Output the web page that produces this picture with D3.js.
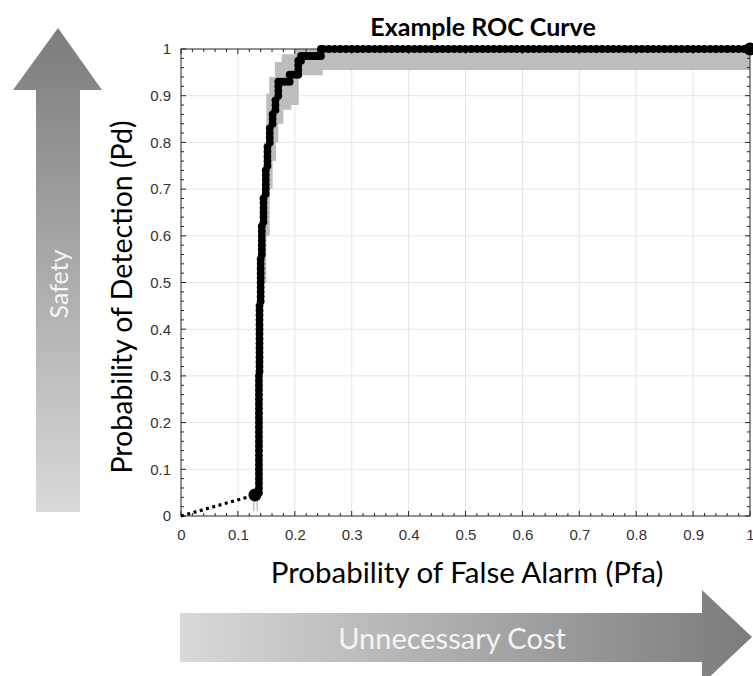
<!DOCTYPE html>
<html lang="en">
<head>
  <meta charset="UTF-8">
  <title>Example ROC Curve</title>
  <script src="https://d3js.org/d3.v7.min.js"></script>
  <style>
    body { margin: 0; background: #fff; }
    .tick text { font-family: "Liberation Sans", Arial, sans-serif; }
  </style>
</head>
<body>
  <div id="chart"></div>
  <script>
    // ROC operating points [Pfa, Pd]
    const rocStart = [[0, 0], [0.130, 0.045]];
    const rocPoints = [
      [0.130, 0.045],
      [0.137, 0.05], [0.137, 0.06], [0.137, 0.07], [0.137, 0.08], [0.137, 0.09], [0.137, 0.10],
      [0.137, 0.11], [0.137, 0.12], [0.137, 0.13], [0.137, 0.14], [0.137, 0.15], [0.137, 0.16],
      [0.137, 0.17], [0.137, 0.18], [0.137, 0.19], [0.137, 0.20], [0.137, 0.21], [0.137, 0.22],
      [0.137, 0.23], [0.137, 0.24], [0.137, 0.25], [0.137, 0.26], [0.137, 0.27], [0.137, 0.28],
      [0.137, 0.29], [0.137, 0.30],
      [0.138, 0.31], [0.138, 0.32], [0.138, 0.33], [0.138, 0.34], [0.138, 0.35], [0.138, 0.36],
      [0.138, 0.37], [0.138, 0.38], [0.138, 0.39], [0.138, 0.40], [0.138, 0.41], [0.138, 0.42],
      [0.138, 0.43], [0.138, 0.44], [0.138, 0.45],
      [0.140, 0.46], [0.140, 0.47], [0.140, 0.48], [0.140, 0.49], [0.140, 0.50], [0.140, 0.51],
      [0.140, 0.52], [0.140, 0.53], [0.140, 0.54], [0.140, 0.55],
      [0.142, 0.56], [0.142, 0.57], [0.142, 0.58], [0.142, 0.59], [0.142, 0.60], [0.142, 0.61],
      [0.142, 0.62],
      [0.145, 0.63], [0.145, 0.64], [0.145, 0.65], [0.145, 0.66], [0.145, 0.67], [0.145, 0.68],
      [0.149, 0.69], [0.149, 0.70], [0.149, 0.71], [0.149, 0.72], [0.149, 0.73], [0.149, 0.74],
      [0.152, 0.75], [0.152, 0.76], [0.152, 0.77], [0.152, 0.78], [0.152, 0.79],
      [0.156, 0.80], [0.156, 0.81], [0.156, 0.82], [0.156, 0.83],
      [0.161, 0.84], [0.161, 0.85], [0.161, 0.86],
      [0.166, 0.87], [0.166, 0.88], [0.166, 0.89],
      [0.171, 0.90], [0.171, 0.91], [0.171, 0.92],
      [0.171, 0.93], [0.176, 0.93], [0.181, 0.93], [0.186, 0.93], [0.191, 0.93],
      [0.191, 0.945], [0.196, 0.945], [0.201, 0.945], [0.206, 0.945],
      [0.206, 0.955], [0.206, 0.965], [0.206, 0.975], [0.211, 0.975],
      [0.211, 0.985], [0.216, 0.985], [0.221, 0.985], [0.226, 0.985], [0.231, 0.985],
      [0.236, 0.985], [0.241, 0.985], [0.246, 0.985],
      [0.246, 1], [0.25, 1], [0.26, 1], [0.27, 1], [0.28, 1], [0.29, 1], [0.30, 1], [0.31, 1],
      [0.32, 1], [0.33, 1], [0.34, 1], [0.35, 1], [0.36, 1], [0.37, 1], [0.38, 1], [0.39, 1],
      [0.40, 1], [0.41, 1], [0.42, 1], [0.43, 1], [0.44, 1], [0.45, 1], [0.46, 1], [0.47, 1],
      [0.48, 1], [0.49, 1], [0.50, 1], [0.51, 1], [0.52, 1], [0.53, 1], [0.54, 1], [0.55, 1],
      [0.56, 1], [0.57, 1], [0.58, 1], [0.59, 1], [0.60, 1], [0.61, 1], [0.62, 1], [0.63, 1],
      [0.64, 1], [0.65, 1], [0.66, 1], [0.67, 1], [0.68, 1], [0.69, 1], [0.70, 1], [0.71, 1],
      [0.72, 1], [0.73, 1], [0.74, 1], [0.75, 1], [0.76, 1], [0.77, 1], [0.78, 1], [0.79, 1],
      [0.80, 1], [0.81, 1], [0.82, 1], [0.83, 1], [0.84, 1], [0.85, 1], [0.86, 1], [0.87, 1],
      [0.88, 1], [0.89, 1], [0.90, 1], [0.91, 1], [0.92, 1], [0.93, 1], [0.94, 1], [0.95, 1],
      [0.96, 1], [0.97, 1], [0.98, 1], [0.99, 1], [1.00, 1]
    ];
    const bigMarkers = [[0.130, 0.045], [1, 1]];

    // confidence band: [Pd from, Pfa edge] steps for left and right edges
    const bandLeft = [[0.50, 0.140], [0.60, 0.142], [0.70, 0.146], [0.80, 0.150], [0.904, 0.155],
                      [0.94, 0.165], [0.972, 0.177], [0.989, 0.200]];
    const bandRight = [[0.50, 0.150], [0.60, 0.156], [0.70, 0.161], [0.76, 0.167], [0.80, 0.171],
                       [0.84, 0.180], [0.87, 0.194], [0.88, 0.207], [0.944, 0.249], [0.955, 1.0]];
    // small error bars under the first marker: [Pfa, Pd low, Pd high]
    const lowBars = [[0.128, 0.01, 0.045], [0.134, 0.01, 0.045]];

    const xTicks = [0, 0.1, 0.2, 0.3, 0.4, 0.5, 0.6, 0.7, 0.8, 0.9, 1];
    const yTicks = [0, 0.1, 0.2, 0.3, 0.4, 0.5, 0.6, 0.7, 0.8, 0.9, 1];
    const minorTicks = d3.range(0, 1.0001, 0.02);

    const W = 753, H = 676;
    const plot = {left: 181, right: 750, top: 49, bottom: 516};

    const svg = d3.select("#chart").append("svg")
      .attr("width", W).attr("height", H);

    const x = d3.scaleLinear().domain([0, 1]).range([plot.left, plot.right]);
    const y = d3.scaleLinear().domain([0, 1]).range([plot.bottom, plot.top]);

    const defs = svg.append("defs");
    const gV = defs.append("linearGradient").attr("id", "gradV")
      .attr("x1", 0).attr("y1", 0).attr("x2", 0).attr("y2", 1);
    gV.append("stop").attr("offset", "0%").attr("stop-color", "#7c7c7c");
    gV.append("stop").attr("offset", "100%").attr("stop-color", "#d9d9d9");
    const gH = defs.append("linearGradient").attr("id", "gradH")
      .attr("x1", 0).attr("y1", 0).attr("x2", 1).attr("y2", 0);
    gH.append("stop").attr("offset", "0%").attr("stop-color", "#d9d9d9");
    gH.append("stop").attr("offset", "100%").attr("stop-color", "#7c7c7c");

    // vertical "Safety" arrow
    svg.append("path")
      .attr("d", "M36,512 L36,90 L13,90 L58,28 L102,90 L80,90 L80,512 Z")
      .attr("fill", "url(#gradV)");
    svg.append("text")
      .attr("transform", "translate(58,284) rotate(-90)")
      .attr("text-anchor", "middle").attr("dominant-baseline", "central")
      .style("font-family", "Lato, sans-serif").style("font-size", "25px")
      .style("fill", "#f4f4f4")
      .text("Safety");

    // horizontal "Unnecessary Cost" arrow
    svg.append("path")
      .attr("d", "M180,613 L702,613 L702,590 L752,637 L702,684 L702,662 L180,662 Z")
      .attr("fill", "url(#gradH)");
    svg.append("text")
      .attr("x", 452).attr("y", 637)
      .attr("text-anchor", "middle").attr("dominant-baseline", "central")
      .style("font-family", "Lato, sans-serif").style("font-size", "29px")
      .style("fill", "#f4f4f4")
      .text("Unnecessary Cost");

    // grid
    svg.append("g").selectAll("line").data(xTicks.slice(1, -1)).join("line")
      .attr("x1", d => x(d)).attr("x2", d => x(d))
      .attr("y1", plot.top).attr("y2", plot.bottom)
      .attr("stroke", "#e5e5e5").attr("stroke-width", 1);
    svg.append("g").selectAll("line").data(yTicks.slice(1, -1)).join("line")
      .attr("y1", d => y(d)).attr("y2", d => y(d))
      .attr("x1", plot.left).attr("x2", plot.right)
      .attr("stroke", "#e5e5e5").attr("stroke-width", 1);

    // confidence band polygon
    const bandPts = [];
    bandLeft.forEach((s, i) => {
      const top = i + 1 < bandLeft.length ? bandLeft[i + 1][0] : 1;
      bandPts.push([s[1], s[0]], [s[1], top]);
    });
    bandPts.push([bandRight[bandRight.length - 1][1], 1]);
    for (let i = bandRight.length - 1; i >= 0; i--) {
      const top = i + 1 < bandRight.length ? bandRight[i + 1][0] : 1;
      bandPts.push([bandRight[i][1], top], [bandRight[i][1], bandRight[i][0]]);
    }
    svg.append("path")
      .attr("d", d3.line().x(d => x(d[0])).y(d => y(d[1]))(bandPts) + "Z")
      .attr("fill", "#bdbdbd");

    svg.append("g").selectAll("line").data(lowBars).join("line")
      .attr("x1", d => x(d[0])).attr("x2", d => x(d[0]))
      .attr("y1", d => y(d[1])).attr("y2", d => y(d[2]))
      .attr("stroke", "#b5b5b5").attr("stroke-width", 1.2);

    // axes box with inward ticks
    const axisColor = "#262626";
    const axes = svg.append("g");
    axes.append("rect")
      .attr("x", plot.left).attr("y", plot.top)
      .attr("width", plot.right - plot.left).attr("height", plot.bottom - plot.top)
      .attr("fill", "none").attr("stroke", axisColor).attr("stroke-width", 1);

    const majorLen = 5, minorLen = 3;
    const tickLen = d => Math.round(d * 50) % 5 === 0 ? majorLen : minorLen;
    axes.append("g").selectAll("line").data(minorTicks).join("line")
      .attr("x1", d => x(d)).attr("x2", d => x(d))
      .attr("y1", plot.bottom).attr("y2", d => plot.bottom - tickLen(d))
      .attr("stroke", axisColor);
    axes.append("g").selectAll("line").data(minorTicks).join("line")
      .attr("x1", d => x(d)).attr("x2", d => x(d))
      .attr("y1", plot.top).attr("y2", d => plot.top + tickLen(d))
      .attr("stroke", axisColor);
    axes.append("g").selectAll("line").data(minorTicks).join("line")
      .attr("y1", d => y(d)).attr("y2", d => y(d))
      .attr("x1", plot.left).attr("x2", d => plot.left + tickLen(d))
      .attr("stroke", axisColor);
    axes.append("g").selectAll("line").data(minorTicks).join("line")
      .attr("y1", d => y(d)).attr("y2", d => y(d))
      .attr("x1", plot.right).attr("x2", d => plot.right - tickLen(d))
      .attr("stroke", axisColor);

    const fmt = d => d === 0 ? "0" : d === 1 ? "1" : d3.format(".1f")(d);

    svg.append("g")
      .attr("transform", `translate(0,${plot.bottom})`)
      .call(d3.axisBottom(x).tickValues(xTicks).tickFormat(fmt).tickSize(0).tickPadding(13))
      .call(g => g.select(".domain").remove())
      .selectAll("text")
      .style("font-size", "15px").style("fill", "#333");

    svg.append("g")
      .attr("transform", `translate(${plot.left},0)`)
      .call(d3.axisLeft(y).tickValues(yTicks).tickFormat(fmt).tickSize(0).tickPadding(10))
      .call(g => g.select(".domain").remove())
      .selectAll("text")
      .style("font-size", "15px").style("fill", "#333");

    // ROC curve
    svg.append("path")
      .attr("d", d3.line().x(d => x(d[0])).y(d => y(d[1]))(rocStart))
      .attr("fill", "none").attr("stroke", "#000")
      .attr("stroke-width", 3.2).attr("stroke-dasharray", "3,3.5");

    svg.append("path")
      .attr("d", d3.line().x(d => x(d[0])).y(d => y(d[1]))(rocPoints))
      .attr("fill", "none").attr("stroke", "#000").attr("stroke-width", 2.2);

    svg.append("g").selectAll("circle").data(rocPoints).join("circle")
      .attr("cx", d => x(d[0])).attr("cy", d => y(d[1]))
      .attr("r", 3.9).attr("fill", "#000");

    svg.append("g").selectAll("circle").data(bigMarkers).join("circle")
      .attr("cx", d => x(d[0])).attr("cy", d => y(d[1]))
      .attr("r", 6.5).attr("fill", "#000");

    // titles
    svg.append("text")
      .attr("x", 483).attr("y", 36)
      .attr("text-anchor", "middle")
      .style("font-family", "Lato, sans-serif").style("font-weight", "bold")
      .style("font-size", "25px").style("fill", "#000")
      .text("Example ROC Curve");

    svg.append("text")
      .attr("x", 467).attr("y", 583)
      .attr("text-anchor", "middle")
      .style("font-family", "Lato, sans-serif").style("font-size", "29.5px").style("fill", "#000")
      .text("Probability of False Alarm (Pfa)");

    svg.append("text")
      .attr("transform", "translate(132,297) rotate(-90)")
      .attr("text-anchor", "middle")
      .style("font-family", "Lato, sans-serif").style("font-size", "28.5px").style("fill", "#000")
      .text("Probability of Detection (Pd)");
  </script>
</body>
</html>
